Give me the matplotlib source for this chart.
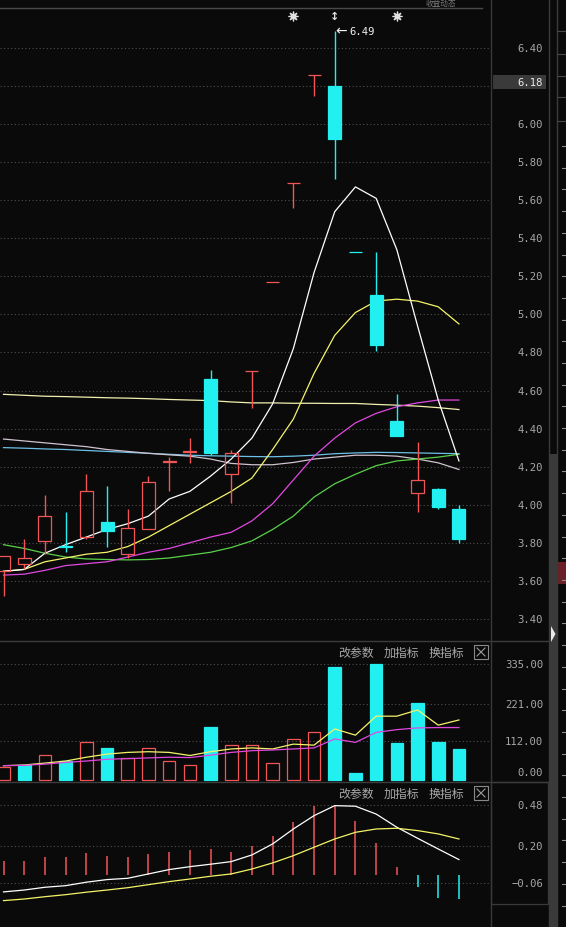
import matplotlib
matplotlib.use('Agg')
import matplotlib.pyplot as plt
import matplotlib.transforms as mtransforms
from matplotlib.patches import Rectangle, Polygon
from matplotlib.lines import Line2D

# ---------------- data ----------------
opens  = [3.65, 3.69, 3.81, 3.785, 3.83, 3.91, 3.74, 3.87, 4.225, 4.275, 4.66, 4.16,
          4.70, 5.17, 5.69, 6.26, 6.20, 5.33, 5.10, 4.44, 4.06, 4.08, 3.98]
closes = [3.73, 3.72, 3.94, 3.78, 4.07, 3.86, 3.88, 4.12, 4.23, 4.28, 4.27, 4.27,
          4.70, 5.17, 5.69, 6.26, 5.92, 5.33, 4.84, 4.36, 4.13, 3.99, 3.82]
highs  = [3.73, 3.82, 4.05, 3.96, 4.16, 4.10, 3.98, 4.15, 4.25, 4.35, 4.71, 4.29,
          4.70, 5.17, 5.69, 6.26, 6.49, 5.33, 5.33, 4.58, 4.33, 4.09, 4.00]
lows   = [3.52, 3.66, 3.74, 3.75, 3.82, 3.78, 3.72, 3.87, 4.07, 4.22, 4.26, 4.01,
          4.51, 5.17, 5.56, 6.15, 5.71, 5.33, 4.81, 4.36, 3.96, 3.98, 3.80]

ma5   = [3.65, 3.66, 3.745, 3.79, 3.83, 3.87, 3.90, 3.94, 4.03, 4.07, 4.15, 4.24,
         4.35, 4.53, 4.82, 5.22, 5.54, 5.67, 5.61, 5.34, 4.94, 4.55, 4.23]
ma10  = [3.65, 3.66, 3.70, 3.72, 3.74, 3.75, 3.78, 3.83, 3.89, 3.95, 4.01, 4.07,
         4.14, 4.29, 4.45, 4.69, 4.89, 5.01, 5.07, 5.08, 5.07, 5.04, 4.95]
ma20  = [3.63, 3.635, 3.655, 3.68, 3.69, 3.70, 3.725, 3.75, 3.77, 3.80, 3.83, 3.855,
         3.915, 4.005, 4.13, 4.255, 4.35, 4.43, 4.48, 4.515, 4.535, 4.55, 4.55]
ma30  = [3.79, 3.77, 3.745, 3.725, 3.715, 3.712, 3.71, 3.712, 3.72, 3.735, 3.75, 3.775,
         3.81, 3.87, 3.94, 4.04, 4.11, 4.16, 4.205, 4.23, 4.24, 4.25, 4.265]
ma60  = [4.58, 4.575, 4.57, 4.568, 4.565, 4.562, 4.56, 4.557, 4.553, 4.55, 4.547, 4.54,
         4.535, 4.535, 4.533, 4.533, 4.532, 4.532, 4.527, 4.523, 4.518, 4.51, 4.50]
ma120 = [4.345, 4.335, 4.325, 4.315, 4.305, 4.29, 4.28, 4.27, 4.262, 4.255, 4.24, 4.217,
         4.21, 4.21, 4.222, 4.24, 4.25, 4.26, 4.26, 4.255, 4.24, 4.22, 4.185]
ma250 = [4.30, 4.297, 4.293, 4.29, 4.285, 4.28, 4.275, 4.27, 4.265, 4.26, 4.257, 4.255,
         4.253, 4.252, 4.255, 4.26, 4.268, 4.272, 4.275, 4.274, 4.272, 4.27, 4.268]

volume   = [38, 43, 72, 56, 109, 93, 63, 92, 54, 43, 154, 100, 102, 48, 119, 138,
            327, 20, 336, 107, 223, 110, 90]
vol_up   = [True, False, True, False, True, False, True, True, True, True, False, True,
            True, True, True, True, False, False, False, False, False, False, False]
vol_ma5  = [41.5, 43.5, 49, 55, 66, 75, 80, 82, 80, 71, 82, 90, 93, 90, 104, 101,
            148, 130, 185, 185, 203, 159, 174]
vol_ma10 = [41.5, 42.5, 46, 51, 55, 60, 62, 64, 66, 65, 72, 80, 85, 87, 90, 93,
            119, 109, 138, 146, 151, 152, 152]

dif  = [-0.119, -0.106, -0.087, -0.076, -0.052, -0.034, -0.025, 0.005, 0.035, 0.055,
        0.072, 0.09, 0.136, 0.212, 0.315, 0.407, 0.476, 0.472, 0.418, 0.327, 0.251,
        0.177, 0.104]
dea  = [-0.179, -0.168, -0.152, -0.138, -0.121, -0.106, -0.09, -0.069, -0.048, -0.03,
        -0.011, 0.005, 0.039, 0.081, 0.131, 0.189, 0.246, 0.292, 0.315, 0.32, 0.304,
        0.281, 0.246]
macd = [0.092, 0.092, 0.12, 0.12, 0.148, 0.127, 0.12, 0.143, 0.159, 0.172, 0.177,
        0.159, 0.2, 0.269, 0.366, 0.476, 0.48, 0.372, 0.219, 0.051, -0.088, -0.158,
        -0.17]

price_ticks  = [6.40, 6.20, 6.00, 5.80, 5.60, 5.40, 5.20, 5.00, 4.80, 4.60, 4.40,
                4.20, 4.00, 3.80, 3.60, 3.40]
price_labels = ['6.40', '', '6.00', '5.80', '5.60', '5.40', '5.20', '5.00', '4.80',
                '4.60', '4.40', '4.20', '4.00', '3.80', '3.60', '3.40']
vol_ticks  = [335, 221, 112]
vol_labels = ['335.00', '221.00', '112.00']
macd_ticks  = [0.48, 0.20, -0.06]
macd_labels = ['0.48', '0.20', '\u22120.06']

high_label = '6.49'
marked_price = '6.18'
event_idx = [14, 16, 19]
event_sym = ['sun', 'arrow', 'sun']
menu_items = ['改参数', '加指标', '换指标']

# ---------------- style ----------------
W, H = 566, 928
BG = '#0a0a0a'
RED = '#f25555'
CYAN = '#22f0f0'
GRID = '#505050'
LABEL = '#a8a8a8'
MONO = 'DejaVu Sans Mono'
CJK = ['Noto Sans CJK SC', 'DejaVu Sans']


def fx(px):
    return px / W


def fy(py):
    return 1 - py / H


fig = plt.figure(figsize=(W / 100, H / 100), dpi=100, facecolor=BG)

ax_main = fig.add_axes([0, fy(641), fx(490), (641 - 8) / H])
ax_vol = fig.add_axes([0, fy(783), fx(490), (783 - 641) / H])
ax_macd = fig.add_axes([0, 0, fx(490), (H - 783) / H])

n = len(closes)
xs = list(range(n))
for ax in (ax_main, ax_vol, ax_macd):
    ax.set_facecolor(BG)
    for s in ax.spines.values():
        s.set_visible(False)
    ax.set_xticks([])
    ax.set_yticks([])
    ax.set_xlim(-0.17, 23.5)

ax_main.set_ylim(3.289, 6.6154)
ax_vol.set_ylim(-5.8, 405.8)
ax_macd.set_ylim(-0.361, 0.639)

label_x = 543 / 490


def axis_labels(ax, ticks, labels):
    tr = mtransforms.blended_transform_factory(ax.transAxes, ax.transData)
    for t, lab in zip(ticks, labels):
        ax.axhline(t, color=GRID, lw=0.8, ls=(0, (1, 2.2)), zorder=0)
        if lab:
            ax.text(label_x, t, lab, transform=tr, ha='right', va='center',
                    family=MONO, fontsize=7.6, color=LABEL, clip_on=False)


axis_labels(ax_main, price_ticks, price_labels)
axis_labels(ax_vol, vol_ticks, vol_labels)
axis_labels(ax_macd, macd_ticks, macd_labels)

# 0.00 label of the volume panel, sitting just above the base line
tr0 = mtransforms.offset_copy(
    mtransforms.blended_transform_factory(ax_vol.transAxes, ax_vol.transData),
    fig=fig, x=0, y=2, units='points')
ax_vol.text(label_x, 0, '0.00', transform=tr0, ha='right', va='bottom',
            family=MONO, fontsize=7.6, color=LABEL, clip_on=False)

# ---------------- moving averages ----------------
ma_styles = [(ma250, '#6cc0e6'), (ma120, '#cfc3cf'), (ma60, '#f2f0b0'),
             (ma30, '#5ad04a'), (ma20, '#e048e0'), (ma10, '#f4f46a'), (ma5, '#ffffff')]
for vals, col in ma_styles:
    ax_main.plot(xs, vals, color=col, lw=0.9, zorder=2)

# ---------------- candles ----------------
bw = 0.63
for i in range(n):
    o, c, h, l = opens[i], closes[i], highs[i], lows[i]
    if c > o:
        up = True
    elif c < o:
        up = False
    else:
        up = True if i == 0 else c >= closes[i - 1]
    col = RED if up else CYAN
    top, bot = max(o, c), min(o, c)
    if h > top:
        ax_main.vlines(i, top, h, color=col, lw=1.0, zorder=3)
    if l < bot:
        ax_main.vlines(i, l, bot, color=col, lw=1.0, zorder=3)
    ax_main.add_patch(Rectangle((i - bw / 2, bot), bw, top - bot,
                                facecolor='none' if up else col, edgecolor=col,
                                lw=0.9, zorder=4))

# high annotation
imax = highs.index(max(highs))
ax_main.annotate('\u2190', xy=(imax, max(highs)),
                 xytext=(0.3, 0), textcoords='offset points', ha='left', va='center',
                 family='DejaVu Sans', fontsize=10, color='#f0f0f0', zorder=6)
ax_main.annotate(high_label, xy=(imax, max(highs)),
                 xytext=(10.3, 0), textcoords='offset points', ha='left', va='center',
                 family=MONO, fontsize=7.6, color='#f0f0f0', zorder=6)

# event markers at the top
trm = mtransforms.blended_transform_factory(ax_main.transData, ax_main.transAxes)
for idx, sym in zip(event_idx, event_sym):
    if sym == 'sun':
        ax_main.plot([idx], [0.9858], transform=trm, marker=(8, 2, 0), ms=7,
                     mec='#e0e0e0', mew=0.9, ls='none', clip_on=False)
        ax_main.plot([idx], [0.9858], transform=trm, marker='o', ms=3.2,
                     mfc='#e0e0e0', mec='#e0e0e0', ls='none', clip_on=False)
    else:
        ax_main.text(idx, 0.9858, '\u2195', transform=trm, ha='center', va='center',
                     fontsize=8, fontweight='bold', color='#e0e0e0')

# ---------------- volume ----------------
vcols = [RED if u else CYAN for u in vol_up]
vfaces = ['none' if u else CYAN for u in vol_up]
ax_vol.bar(xs, volume, width=0.61, bottom=0, color=vfaces, edgecolor=vcols,
           lw=0.9, zorder=3)
ax_vol.plot(xs, vol_ma5, color='#f4f46a', lw=0.9, zorder=4)
ax_vol.plot(xs, vol_ma10, color='#e048e0', lw=0.9, zorder=4)

# ---------------- MACD ----------------
hcols = [RED if v >= 0 else CYAN for v in macd]
ax_macd.vlines(xs, 0, macd, colors=hcols, lw=1.1, zorder=3)
ax_macd.plot(xs, dif, color='#ffffff', lw=0.9, zorder=4)
ax_macd.plot(xs, dea, color='#f4f46a', lw=0.9, zorder=4)

# ---------------- frame / UI decorations ----------------
def fline(x0, y0, x1, y1, col='#3c3c3c', lw=1.0):
    fig.add_artist(Line2D([fx(x0), fx(x1)], [fy(y0), fy(y1)], color=col, lw=lw))


def frect(x0, y0, x1, y1, **kw):
    fig.add_artist(Rectangle((fx(x0), fy(y1)), (x1 - x0) / W, (y1 - y0) / H,
                             transform=fig.transFigure, **kw))


fline(0, 8.5, 482, 8.5, '#4a4a4a')
fline(0, 641.5, 549, 641.5, '#3c3c3c')
fline(0, 782.5, 549, 782.5, '#3c3c3c')
fline(490.5, 0, 490.5, H, '#383838')
fline(549, 0, 549, H, '#3a3a3a')
fline(557, 0, 557, H, '#3a3a3a')
frect(549.5, 455, 556.5, H, facecolor='#3a3a3a', edgecolor='none')
frect(491, 783, 548, 905, facecolor='none', edgecolor='#3a3a3a', lw=0.9)

# right-most strip
for yy in (32, 55, 77, 98, 122):
    fline(557, yy, 566, yy, '#4a4a4a', 0.8)
yy = 147.0
while yy < 915:
    fline(562, yy, 566, yy, '#8a8a8a', 0.8)
    yy += 21.7
frect(557.5, 563, 566, 585, facecolor='#6b1f26', edgecolor='none')
fig.add_artist(Polygon([(fx(551), fy(627)), (fx(555.5), fy(635)), (fx(551), fy(643))],
                       closed=True, transform=fig.transFigure,
                       facecolor='#e8e8e8', edgecolor='none'))

# highlighted price box
frect(493, 76, 546, 90, facecolor='#3a3a3a', edgecolor='none')
fig.text(fx(543), fy(83), marked_price, ha='right', va='center', family=MONO,
         fontsize=7.6, color='#ececec')

# small title at the very top (kept fully inside the figure)
fig.text(fx(426), fy(3.8), '收益动态', ha='left', va='center', family=CJK,
         fontsize=5.5, color='#7a7a7a')

# panel menus
menu_x = [338, 384, 429]
for yc in (653, 794):
    for mx, item in zip(menu_x, menu_items):
        fig.text(fx(mx), fy(yc), item, ha='left', va='center', family=CJK,
                 fontsize=8.6, color='#a8a8a8')
    frect(474, yc - 7, 488, yc + 7, facecolor='none', edgecolor='#8a8a8a', lw=0.8)
    fline(477, yc - 4, 485, yc + 4, '#9a9a9a', 0.8)
    fline(477, yc + 4, 485, yc - 4, '#9a9a9a', 0.8)

fig.savefig('out.png', dpi=100, facecolor=BG)
